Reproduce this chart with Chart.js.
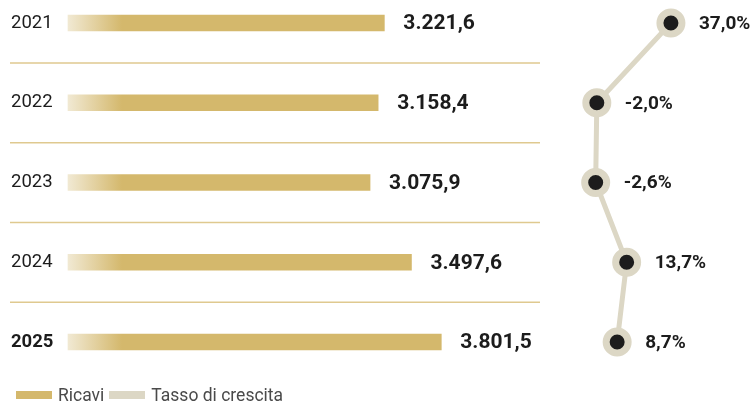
<!DOCTYPE html>
<html>
<head>
<meta charset="utf-8">
<script src="https://cdn.jsdelivr.net/npm/chart.js@4"></script>
<style>
    html, body { margin: 0; padding: 0; background: #fff; }
    .wrap { position: relative; width: 756px; height: 403px; }
    #legend { position: absolute; left: 16px; top: 385px; display: flex; align-items: center; font: 17.5px Roboto, sans-serif; color: #4a4a4a; }
    #legend .item { display: flex; align-items: center; margin-right: 5px; }
    #legend .box { width: 36px; height: 8px; margin-right: 6px; }
</style>
</head>
<body>
<div class="wrap">
    <canvas id="chart" width="756" height="403"></canvas>
    <div id="legend"></div>
</div>
<script>
// data
const years = ['2021', '2022', '2023', '2024', '2025'];
const revenues = [3221.6, 3158.4, 3075.9, 3497.6, 3801.5];
const growth = [37.0, -2.0, -2.6, 13.7, 8.7];
const seriesNames = ['Ricavi', 'Tasso di crescita'];
const highlightYear = '2025';

const GOLD = '#d4b86c';
const GOLD_LIGHT = '#f1e9d3';
const BEIGE = '#dcd7c5';
const INK = '#1c1c1c';

// italian number format: 3.221,6
function fmt(v) {
    const parts = Math.abs(v).toFixed(1).split('.');
    const int = parts[0].replace(/\B(?=(\d{3})+(?!\d))/g, '.');
    return (v < 0 ? '-' : '') + int + ',' + parts[1];
}

function barFill(ctx) {
    const area = ctx.chart.chartArea;
    if (!area) return GOLD;
    const g = ctx.chart.ctx.createLinearGradient(area.left, 0, area.left + 54, 0);
    g.addColorStop(0, GOLD_LIGHT);
    g.addColorStop(1, GOLD);
    return g;
}

// thin lines between the rows
const separators = {
    id: 'separators',
    beforeDatasetsDraw(chart) {
        const y = chart.scales.y;
        const c = chart.ctx;
        c.save();
        c.strokeStyle = '#dfc98f';
        c.lineWidth = 1.5;
        for (let i = 0; i < years.length - 1; i++) {
            const py = (y.getPixelForValue(i) + y.getPixelForValue(i + 1)) / 2;
            c.beginPath();
            c.moveTo(10, py);
            c.lineTo(540, py);
            c.stroke();
        }
        c.restore();
    }
};

// value labels next to bars and points
const valueLabels = {
    id: 'valueLabels',
    afterDatasetsDraw(chart) {
        const c = chart.ctx;
        c.save();
        c.fillStyle = INK;
        c.textAlign = 'left';
        c.textBaseline = 'middle';

        c.font = 'bold 21px Roboto';
        chart.getDatasetMeta(0).data.forEach((el, i) => {
            c.fillText(fmt(revenues[i]), el.x + 19, el.y + 1);
        });

        c.font = 'bold 19px Roboto';
        chart.getDatasetMeta(1).data.forEach((el, i) => {
            c.fillText(fmt(growth[i]) + '%', el.x + 28, el.y + 1);
        });
        c.restore();
    }
};

const ctx = document.getElementById('chart').getContext('2d');
const chart = new Chart(ctx, {
    data: {
        labels: years,
        datasets: [
            {
                type: 'bar',
                label: seriesNames[0],
                data: revenues,
                xAxisID: 'x',
                backgroundColor: barFill,
                barThickness: 16,
                borderWidth: 0,
                clip: false,
                order: 2
            },
            {
                type: 'line',
                label: seriesNames[1],
                data: growth,
                xAxisID: 'x2',
                borderColor: BEIGE,
                borderWidth: 5,
                tension: 0,
                pointRadius: 11,
                pointBorderWidth: 7,
                pointBackgroundColor: INK,
                pointBorderColor: BEIGE,
                clip: false,
                order: 1
            }
        ]
    },
    options: {
        indexAxis: 'y',
        responsive: false,
        animation: false,
        layout: { padding: { left: 11, top: 23, right: 56, bottom: 61 } },
        scales: {
            y: {
                type: 'category',
                offset: false,
                grid: { display: false },
                border: { display: false },
                ticks: {
                    crossAlign: 'far',
                    padding: 0,
                    color: INK,
                    font: c => ({
                        family: 'Roboto',
                        size: 18.5,
                        weight: c.tick && c.tick.label === highlightYear ? 'bold' : 'normal'
                    })
                },
                afterFit: s => { s.width = 57; }
            },
            x: {
                display: false,
                position: 'bottom',
                min: 0,
                max: 6436
            },
            x2: {
                display: false,
                position: 'top',
                min: -280.3,
                max: 52.3
            }
        },
        plugins: {
            legend: { display: false },
            tooltip: { enabled: false }
        }
    },
    plugins: [separators, valueLabels]
});

// legend
const legendColors = [GOLD, BEIGE];
document.getElementById('legend').innerHTML = seriesNames.map((name, i) => `
    <div class="item"><span class="box" style="background:${legendColors[i]}"></span>${name}</div>
`).join('');
</script>
</body>
</html>
